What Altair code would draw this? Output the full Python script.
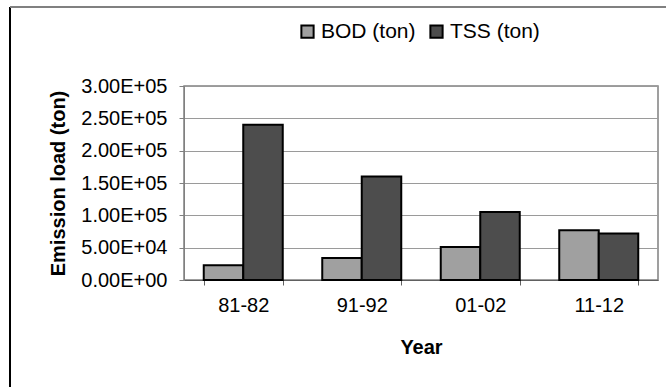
import altair as alt
import pandas as pd

# Emission loads by period
years = ["81-82", "91-92", "01-02", "11-12"]
bod_ton = [23000, 34000, 51000, 77000]
tss_ton = [240000, 160000, 105000, 72000]
series = ["BOD (ton)", "TSS (ton)"]
y_ticks = [0, 50000, 100000, 150000, 200000, 250000, 300000]

rows = []
for i, yr in enumerate(years):
    rows.append({"Year": yr, "Series": series[0], "Load": bod_ton[i]})
    rows.append({"Year": yr, "Series": series[1], "Load": tss_ton[i]})
df = pd.DataFrame(rows)

FONT = "Arial, Liberation Sans, sans-serif"
W, H = 474, 194
PAD = {"left": 184, "top": 86, "right": 8, "bottom": 107}

bars = alt.Chart(df).mark_bar(stroke="black", strokeWidth=2).encode(
    x=alt.X(
        "Year:N",
        sort=years,
        scale=alt.Scale(paddingInner=1 / 3, paddingOuter=1 / 6),
        axis=alt.Axis(
            title="Year",
            labelAngle=0,
            labelFont=FONT,
            labelFontSize=20,
            labelColor="black",
            labelPadding=10,
            tickBand="extent",
            tickSize=5,
            tickColor="#606060",
            domainColor="#606060",
            titleFont=FONT,
            titleFontSize=20,
            titleFontWeight="bold",
            titleColor="black",
            titlePadding=22,
            grid=False,
        ),
    ),
    xOffset=alt.XOffset("Series:N", sort=series),
    y=alt.Y(
        "Load:Q",
        scale=alt.Scale(domain=[0, 300000], nice=False),
        axis=alt.Axis(
            title="Emission load (ton)",
            values=y_ticks,
            labelExpr="replace(upper(format(datum.value, '.2e')), 'E+', 'E+0')",
            labelFont=FONT,
            labelFontSize=20,
            labelColor="black",
            labelPadding=12,
            tickSize=5,
            tickColor="#808080",
            domainColor="#808080",
            gridColor="#9a9a9a",
            titleFont=FONT,
            titleFontSize=20,
            titleFontWeight="bold",
            titleColor="black",
            titlePadding=12,
        ),
    ),
    color=alt.Color(
        "Series:N",
        sort=series,
        scale=alt.Scale(domain=series, range=["#a0a0a0", "#4d4d4d"]),
        legend=alt.Legend(
            title=None,
            orient="none",
            direction="horizontal",
            legendX=113,
            legendY=-65,
            symbolType="square",
            symbolSize=150,
            symbolStrokeColor="black",
            symbolStrokeWidth=2,
            symbolOpacity=1,
            labelFont=FONT,
            labelFontSize=21,
            labelColor="black",
            labelOffset=3,
            columnPadding=10,
        ),
    ),
)

# Outer frame: dark left edge and grey top edge
frame_left = alt.Chart(df).mark_rule(color="black", strokeWidth=2).encode(
    x=alt.value(-174), y=alt.value(-79), y2=alt.value(301)
)
frame_top = alt.Chart(df).mark_rule(color="#808080", strokeWidth=2).encode(
    x=alt.value(-174), x2=alt.value(482), y=alt.value(-79)
)

chart = (
    alt.layer(bars, frame_left, frame_top)
    .properties(
        width=W,
        height=H,
        padding=PAD,
        autosize=alt.AutoSizeParams(type="none"),
        background="white",
    )
    .configure_view(stroke="#808080", strokeWidth=1.5)
)

chart.save("out.html", embed_options={"renderer": "svg", "actions": False})
